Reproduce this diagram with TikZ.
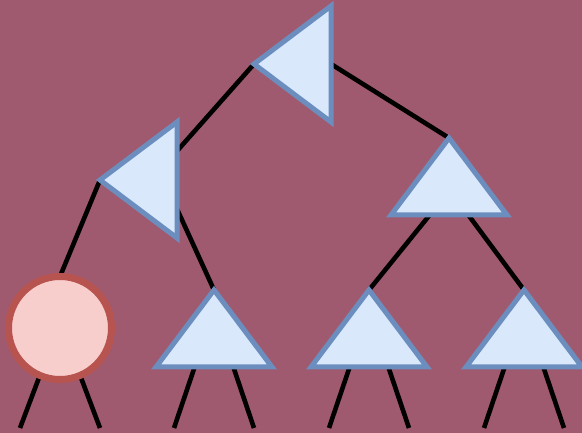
\documentclass[tikz,border=0pt]{standalone}
\usepackage{xcolor}
\usepackage{tikz}
\usetikzlibrary{shapes.geometric, calc}

\definecolor{bgmauve}{HTML}{A05A6F}
\definecolor{trifill}{HTML}{DAE8FC}
\definecolor{triline}{HTML}{6C8EBF}
\definecolor{leaffill}{HTML}{F8CECC}
\definecolor{leafline}{HTML}{B85450}

\pgfdeclarelayer{bg}
\pgfdeclarelayer{edges}
\pgfsetlayers{bg,edges,main}

\begin{document}
\begin{tikzpicture}[
  x=1pt, y=-1pt,
  tri/.style={isosceles triangle, isosceles triangle stretches,
              shape border rotate=#1, draw=triline, fill=trifill,
              line width=5pt, inner sep=0pt, outer sep=0pt,
              minimum width=116pt, minimum height=77pt, anchor=apex},
  tri/.default=90,
  leaf/.style={circle, draw=leafline, fill=leaffill, line width=7pt,
               minimum size=103pt, inner sep=0pt, outer sep=0pt},
  edge/.style={line width=4.6pt, black},
]
  \begin{pgfonlayer}{bg}
    \fill[bgmauve] (0,0) rectangle (582,433);
  \end{pgfonlayer}
  \useasboundingbox (0,0) rectangle (582,433);

  % tree
  \node[tri=180] (root) at (254,64)  {};
  \node[tri=180] (mid)  at (100,180) {};
  \node[tri]     (rt)   at (449,138) {};
  \node[leaf]    (lf)   at (60,328)  {};
  \node[tri]     (b1)   at (214,290) {};
  \node[tri]     (b2)   at (369,290) {};
  \node[tri]     (b3)   at (524,290) {};

  \begin{pgfonlayer}{edges}
    \draw[edge] (root.apex) -- ($(mid.right corner)!0.25!(mid.left corner)$);
    \draw[edge] (root.lower side) -- (rt.apex);
    \draw[edge] (mid.apex) -- (lf.north);
    \draw[edge] ($(mid.right corner)!0.75!(mid.left corner)$) -- (b1.apex);
    \draw[edge] ($(rt.left corner)!1/3!(rt.right corner)$) -- (b2.apex);
    \draw[edge] ($(rt.left corner)!2/3!(rt.right corner)$) -- (b3.apex);

    % loose ends
    \coordinate (lf-l) at (20,428);
    \coordinate (lf-r) at (100,428);
    \draw[edge] (lf.-113) -- (lf-l);
    \draw[edge] (lf.-67)  -- (lf-r);
    \foreach \t/\cx in {b1/214, b2/369, b3/524} {
      \coordinate (\t-l) at (\cx-40,428);
      \coordinate (\t-r) at (\cx+40,428);
      \draw[edge] ($(\t.left corner)!1/3!(\t.right corner)$) -- (\t-l);
      \draw[edge] ($(\t.left corner)!2/3!(\t.right corner)$) -- (\t-r);
    }
  \end{pgfonlayer}
\end{tikzpicture}
\end{document}
